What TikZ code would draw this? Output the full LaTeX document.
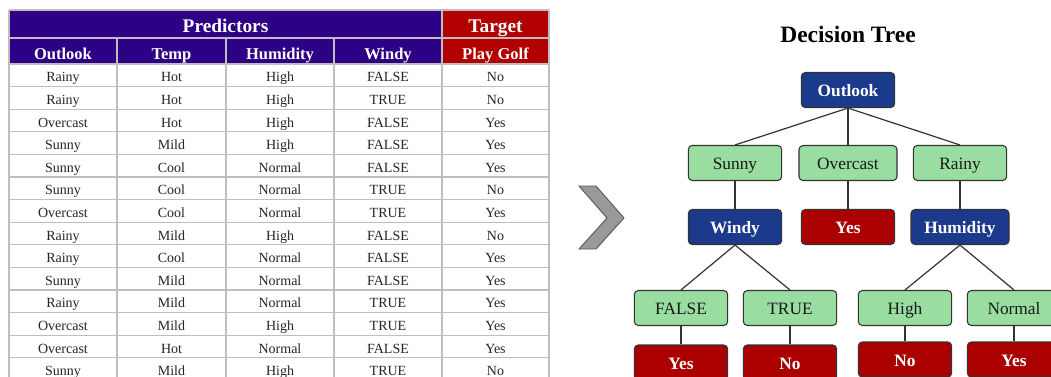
\documentclass[tikz,border=0pt]{standalone}
\usepackage{fontspec}
\setmainfont{Liberation Serif}
\definecolor{purp}{RGB}{46,0,133}
\definecolor{tred}{RGB}{178,0,0}
\definecolor{gridc}{RGB}{190,190,190}
\definecolor{tblue}{RGB}{28,58,140}
\definecolor{tgreen}{RGB}{153,221,160}
\definecolor{lred}{RGB}{170,0,0}
\definecolor{chev}{RGB}{153,153,153}
\begin{document}
\begin{tikzpicture}[x=0.75pt,y=-0.75pt,
  hdrA/.style={text height=12.3pt,text depth=0pt,inner sep=0pt,text=white,font=\bfseries\fontsize{14.5}{16}\selectfont},
  hdrB/.style={text height=12pt,text depth=0pt,inner sep=0pt,text=white,font=\bfseries\fontsize{12.4}{14}\selectfont},
  cell/.style={text height=9.9pt,text depth=0pt,inner sep=0pt,text=black!85,font=\fontsize{10.5}{12}\selectfont},
  gridline/.style={draw=gridc,line width=0.8pt},
  treebox/.style={text height=9.8pt,text depth=0pt,inner sep=0pt,draw=black!80,line width=0.8pt,rounded corners=3pt,minimum height=26.25pt,minimum width=70pt},
  wide/.style={minimum width=73.5pt},
  decision/.style={treebox,fill=tblue,text=white,font=\bfseries\fontsize{13}{15}\selectfont},
  branch/.style={treebox,fill=tgreen,text=black!90,font=\fontsize{13}{15}\selectfont},
  leaf/.style={treebox,fill=lred,text=white,font=\bfseries\fontsize{13}{15}\selectfont},
  edge/.style={draw=black!80,line width=0.9pt}
]
\useasboundingbox (0,0) rectangle (1051,376);
\clip (0,0) rectangle (1051,376);
\fill[white] (0,0) rectangle (1051,376);

% ---------- table ----------
\fill[purp] (9,10) rectangle (442,64);
\fill[tred] (442,10) rectangle (549,64);
\foreach \k in {0,...,14} {
  \draw[gridline] (9,{64+22.6*\k}) -- (549,{64+22.6*\k});
}
\draw[gridline] (9,10) -- (549,10);
\draw[gridline] (9,38) -- (549,38);
\foreach \xx in {9,442,549} { \draw[gridline] (\xx,10) -- (\xx,381); }
\foreach \xx in {117,226,334} { \draw[gridline] (\xx,38) -- (\xx,381); }

\node[hdrA] (pred) at (225.5,24) {Predictors};
\node[hdrA] (targ) at (495.5,24) {Target};
\node[hdrB] (h1) at (63,51) {Outlook};
\node[hdrB] (h2) at (171.5,51) {Temp};
\node[hdrB] (h3) at (280,51) {Humidity};
\node[hdrB] (h4) at (388,51) {Windy};
\node[hdrB] (h5) at (495.5,51) {Play Golf};

\foreach \a/\b/\c/\d/\e [count=\i] in {
  Rainy/Hot/High/FALSE/No,
  Rainy/Hot/High/TRUE/No,
  Overcast/Hot/High/FALSE/Yes,
  Sunny/Mild/High/FALSE/Yes,
  Sunny/Cool/Normal/FALSE/Yes,
  Sunny/Cool/Normal/TRUE/No,
  Overcast/Cool/Normal/TRUE/Yes,
  Rainy/Mild/High/FALSE/No,
  Rainy/Cool/Normal/FALSE/Yes,
  Sunny/Mild/Normal/FALSE/Yes,
  Rainy/Mild/Normal/TRUE/Yes,
  Overcast/Mild/High/TRUE/Yes,
  Overcast/Hot/Normal/FALSE/Yes,
  Sunny/Mild/High/TRUE/No} {
  \node[cell] (r\i c1) at (63,{64+22.6*(\i-0.5)}) {\a};
  \node[cell] (r\i c2) at (171.5,{64+22.6*(\i-0.5)}) {\b};
  \node[cell] (r\i c3) at (280,{64+22.6*(\i-0.5)}) {\c};
  \node[cell] (r\i c4) at (388,{64+22.6*(\i-0.5)}) {\d};
  \node[cell] (r\i c5) at (495.5,{64+22.6*(\i-0.5)}) {\e};
}

% ---------- chevron ----------
\draw[fill=chev,draw=black!65,line width=0.7pt,line join=miter]
  (579,186) -- (596,186) -- (624,218) -- (596,249) -- (579,249) -- (607,218) -- cycle;

% ---------- tree ----------
\node[font=\bfseries\fontsize{17.6}{20}\selectfont,text=black,inner sep=0pt] (title) at (848,34) {Decision Tree};

\node[decision] (outlook) at (848,90) {Outlook};
\node[branch] (sunny) at (735,163) {Sunny};
\node[branch,wide] (overcast) at (848,163) {Overcast};
\node[branch] (rainy) at (960,163) {Rainy};
\node[decision] (windy) at (735,227) {Windy};
\node[leaf] (yesO) at (848,227) {Yes};
\node[decision,wide] (humid) at (960,227) {Humidity};
\node[branch] (false) at (681,308) {FALSE};
\node[branch] (true) at (790,308) {TRUE};
\node[branch] (high) at (905,308) {High};
\node[branch] (normal) at (1014,308) {Normal};
\node[leaf] (yes1) at (681,362.5) {Yes};
\node[leaf] (no1) at (790,362.5) {No};
\node[leaf] (no2) at (905,359.5) {No};
\node[leaf] (yes2) at (1014,359.5) {Yes};

\draw[edge] (outlook.south) -- (sunny.north);
\draw[edge] (outlook.south) -- (overcast.north);
\draw[edge] (outlook.south) -- (rainy.north);
\draw[edge] (sunny.south) -- (windy.north);
\draw[edge] (overcast.south) -- (yesO.north);
\draw[edge] (rainy.south) -- (humid.north);
\draw[edge] (windy.south) -- (false.north);
\draw[edge] (windy.south) -- (true.north);
\draw[edge] (humid.south) -- (high.north);
\draw[edge] (humid.south) -- (normal.north);
\draw[edge] (false.south) -- (yes1.north);
\draw[edge] (true.south) -- (no1.north);
\draw[edge] (high.south) -- (no2.north);
\draw[edge] (normal.south) -- (yes2.north);
\end{tikzpicture}
\end{document}
